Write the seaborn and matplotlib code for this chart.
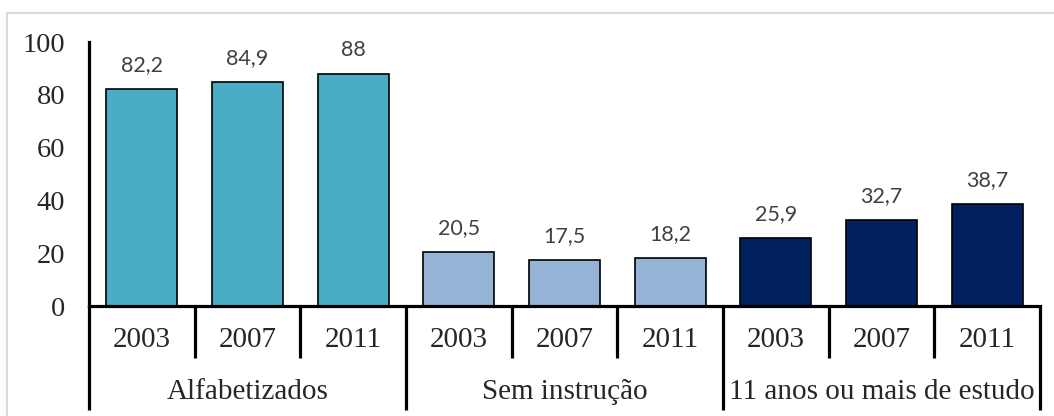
import pandas as pd
import matplotlib
matplotlib.use("Agg")
import matplotlib.pyplot as plt
import matplotlib.transforms as mtransforms
from matplotlib.patches import Rectangle
import seaborn as sns

# data
groups = ["Alfabetizados", "Sem instrução", "11 anos ou mais de estudo"]
years = ["2003", "2007", "2011"]
alfabetizados = [82.2, 84.9, 88]
sem_instrucao = [20.5, 17.5, 18.2]
onze_anos = [25.9, 32.7, 38.7]
labels = ["82,2", "84,9", "88", "20,5", "17,5", "18,2", "25,9", "32,7", "38,7"]
colors = ["#4BACC6", "#95B3D7", "#002060"]

rows = []
for g, vals in zip(groups, [alfabetizados, sem_instrucao, onze_anos]):
    for y, v in zip(years, vals):
        rows.append({"group": g, "year": y, "cat": g + " " + y, "value": v})
df = pd.DataFrame(rows)

sns.set_style("white")
plt.rcParams['font.family'] = ['Liberation Serif', 'DejaVu Serif']

fig = plt.figure(figsize=(10.54, 4.16), dpi=100)
ax = fig.add_axes([89 / 1054, 110 / 416, 951 / 1054, 264 / 416])

sns.barplot(data=df, x="cat", y="value", hue="group", palette=colors,
            saturation=1, dodge=False, width=0.67, edgecolor="black",
            linewidth=1.2, legend=False, ax=ax)

ax.set_ylim(0, 100)
ax.set_xlim(-0.5, len(df) - 0.5)
ax.set_yticks([0, 20, 40, 60, 80, 100])
ax.tick_params(axis="y", length=0, pad=17, labelsize=20.5)
ax.set_xticks([])
ax.set_xlabel("")
ax.set_ylabel("")
for s in ["top", "right"]:
    ax.spines[s].set_visible(False)
for s in ["left", "bottom"]:
    ax.spines[s].set_linewidth(2.3)
    ax.spines[s].set_color("black")

# data labels
for p, lab in zip(ax.patches, labels):
    ax.annotate(lab, (p.get_x() + p.get_width() / 2, p.get_height()),
                xytext=(0, 10), textcoords="offset points", ha="center",
                va="bottom", fontsize=15.5, color="#404040", family=["Lato", "DejaVu Sans"])

# multi-level category axis
trans = mtransforms.blended_transform_factory(ax.transData, ax.transAxes)
for i in range(len(df) + 1):
    low = -0.394 if i % 3 == 0 else -0.197
    ax.plot([i - 0.5, i - 0.5], [0, low], color="black", lw=2.3,
            transform=trans, clip_on=False, solid_capstyle="butt")
for i, y in enumerate(df["year"]):
    ax.text(i, -0.129, y, transform=trans, ha="center", va="center", fontsize=21)
for j, g in enumerate(groups):
    ax.text(3 * j + 1, -0.326, g, transform=trans, ha="center", va="center", fontsize=21)

# light outer frame
fig.patches.append(Rectangle((7 / 1054, -0.1), 1.2, (416 - 13) / 416 + 0.1,
                             transform=fig.transFigure, fill=False,
                             edgecolor="#D9D9D9", lw=1.5))

fig.savefig("out.png", dpi=100)
